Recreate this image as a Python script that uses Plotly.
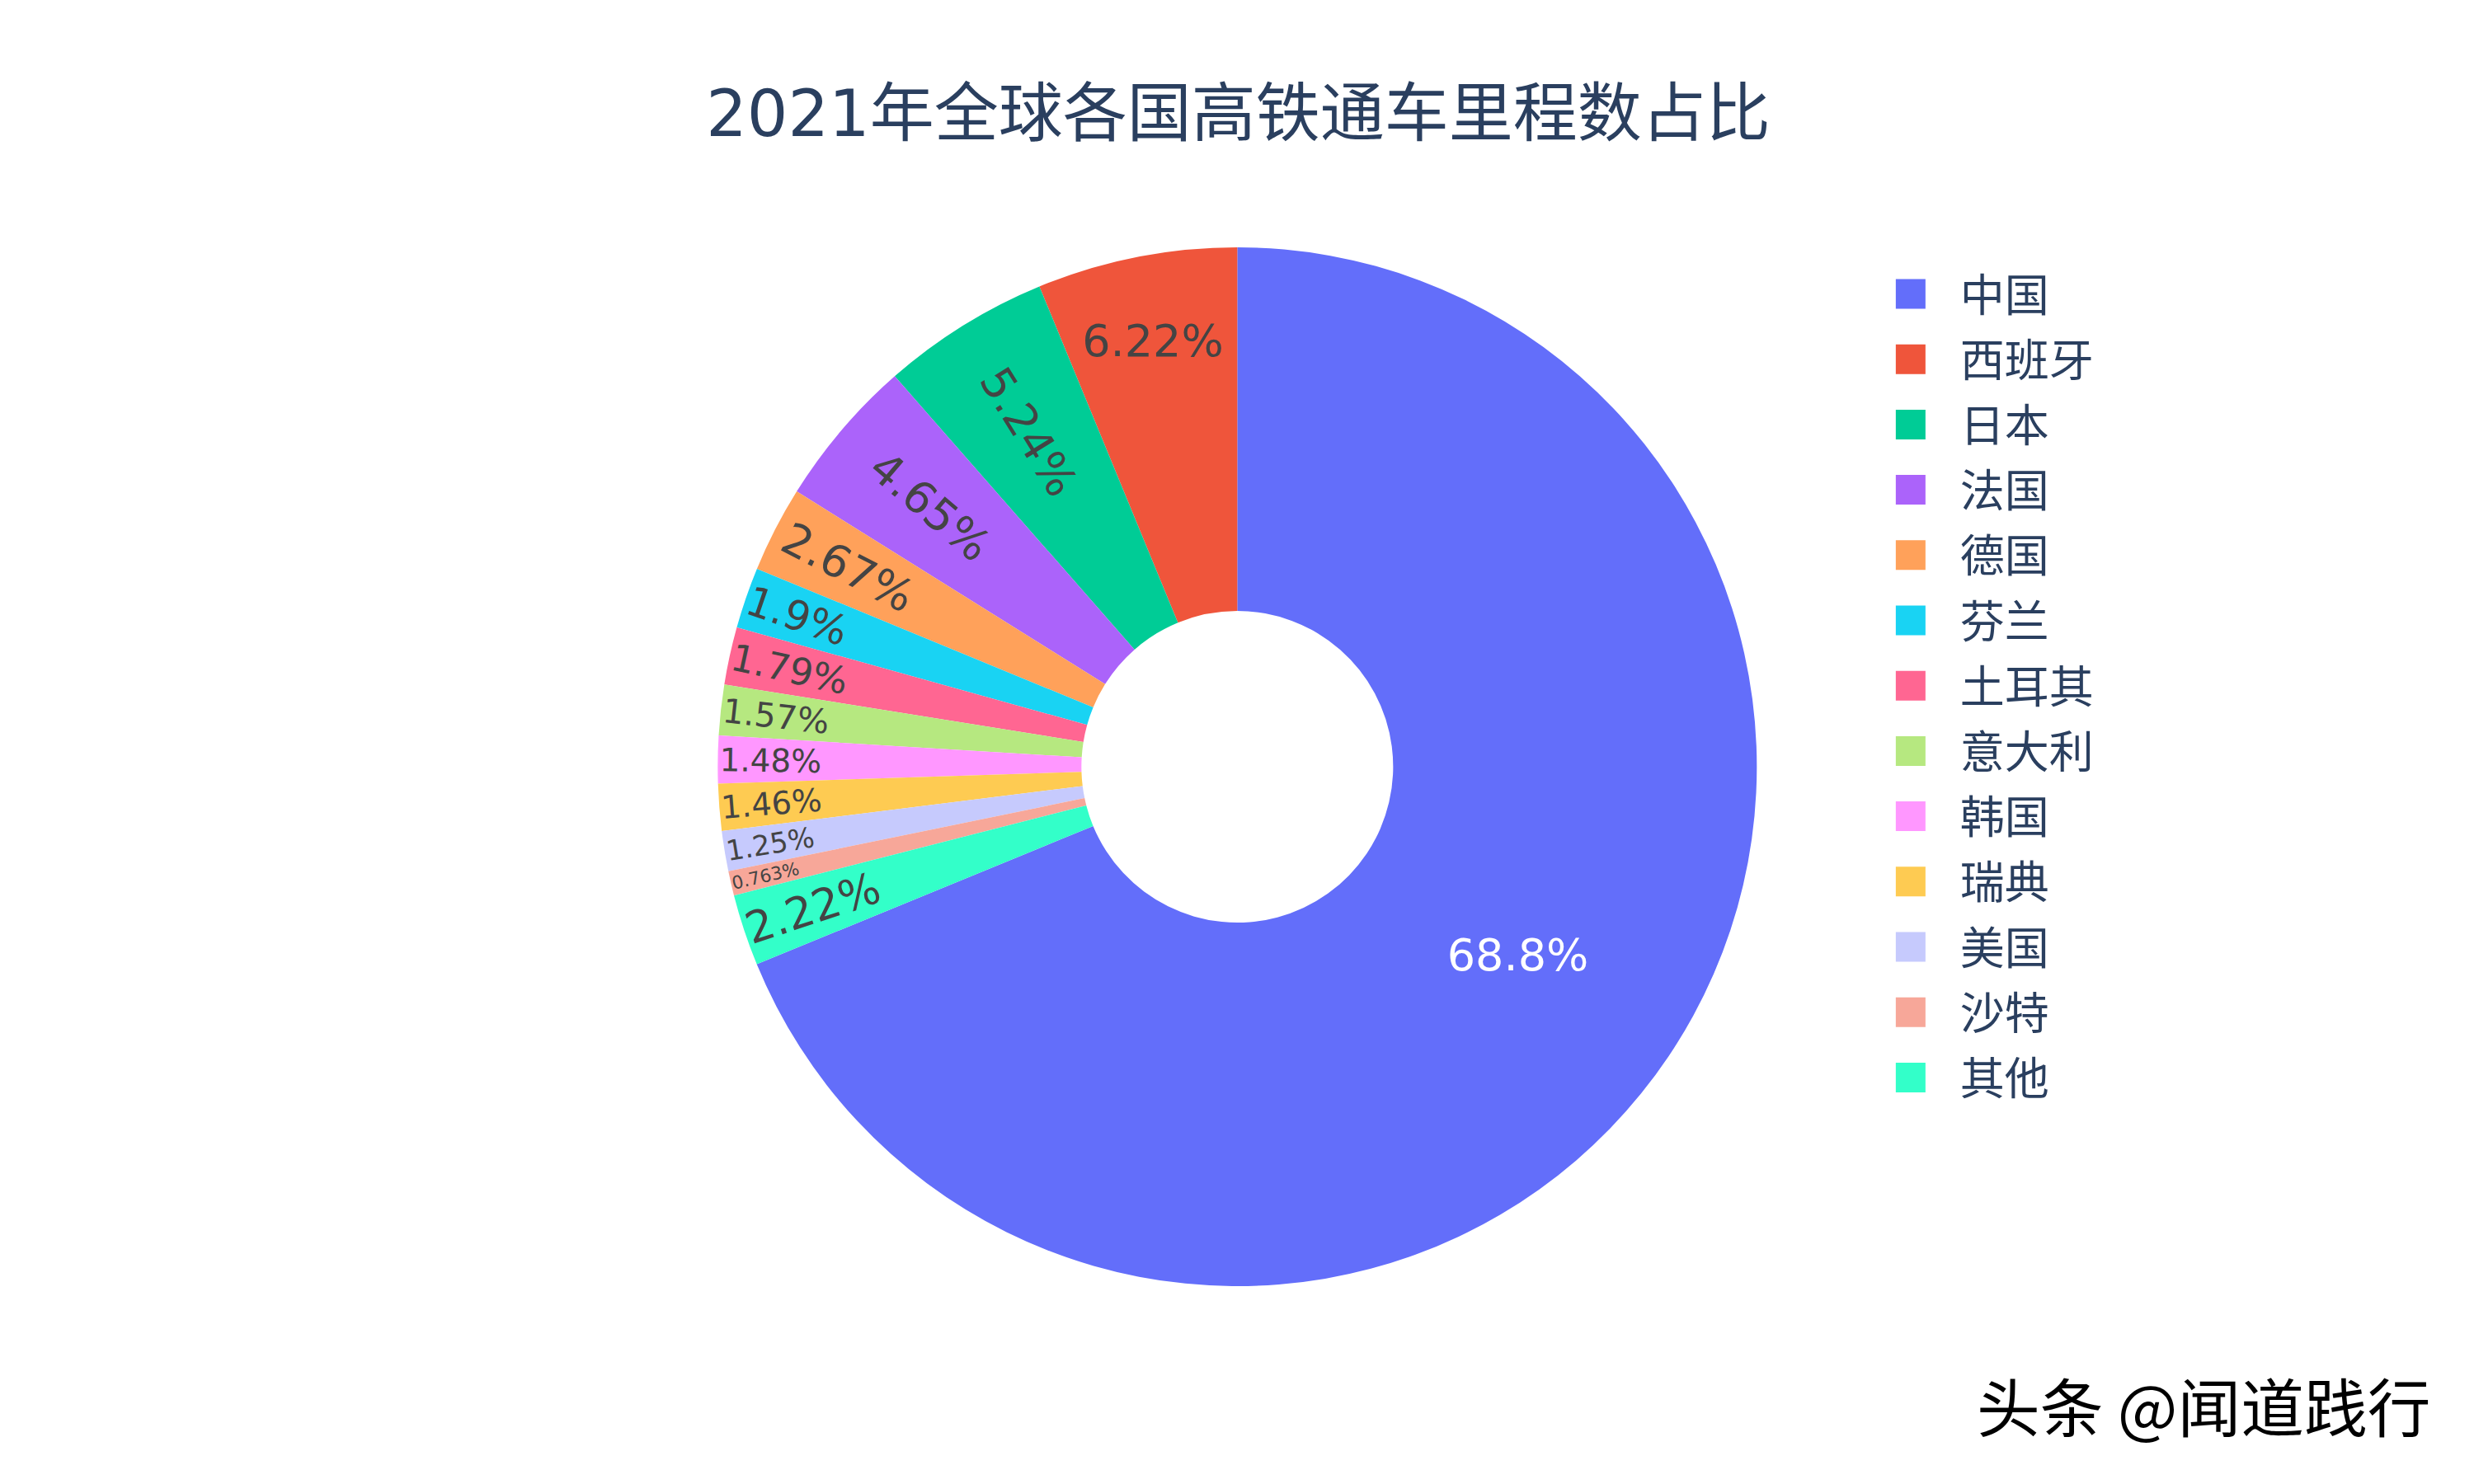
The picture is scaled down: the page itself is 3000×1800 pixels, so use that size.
import plotly.graph_objects as go

# ---------------------------------------------------------------------------
# Data
# ---------------------------------------------------------------------------

COUNTRIES = ["中国", "西班牙", "日本", "法国", "德国", "芬兰", "土耳其",
             "意大利", "韩国", "瑞典", "美国", "沙特", "其他"]
SHARES = [68.8, 6.22, 5.24, 4.65, 2.67, 1.9, 1.79,
          1.57, 1.48, 1.46, 1.25, 0.763, 2.22]

TITLE = "2021年全球各国高铁通车里程数占比"
WATERMARK = "头条 @闻道践行"

FONT = "DejaVu Sans, Noto Sans CJK SC, sans-serif"

# ---------------------------------------------------------------------------
# Figure
# ---------------------------------------------------------------------------

fig = go.Figure(go.Pie(
    labels=COUNTRIES,
    values=SHARES,
    hole=0.3,
    sort=False,
    textinfo="percent",
    textposition="inside",
    automargin=False,
    domain=dict(x=[0.0026, 1], y=[0, 1]),
))

fig.update_layout(
    template="plotly",
    width=1000,
    height=600,
    font=dict(family=FONT, size=18),
    title=dict(text=TITLE, x=0.5005, xanchor="center", y=0.9233, yanchor="middle", font=dict(size=26)),
    margin=dict(l=264, r=265, t=100, b=80),
    legend=dict(x=1.0367, y=0.9985, xanchor="left", yanchor="top"),
    annotations=[dict(
        text=WATERMARK,
        xref="paper", yref="paper",
        x=1.5316, y=-0.1125,
        xanchor="right", yanchor="middle",
        showarrow=False,
        font=dict(family="Noto Sans CJK SC", size=25.6, color="#000000"),
    )],
)

# the chart is a 1000x600 layout shown at 3x, so the legend swatches scale too
fig.write_html(
    "out.html",
    config={"displayModeBar": False},
    post_script="document.body.style.margin = '0'; document.body.style.zoom = 3;",
)
